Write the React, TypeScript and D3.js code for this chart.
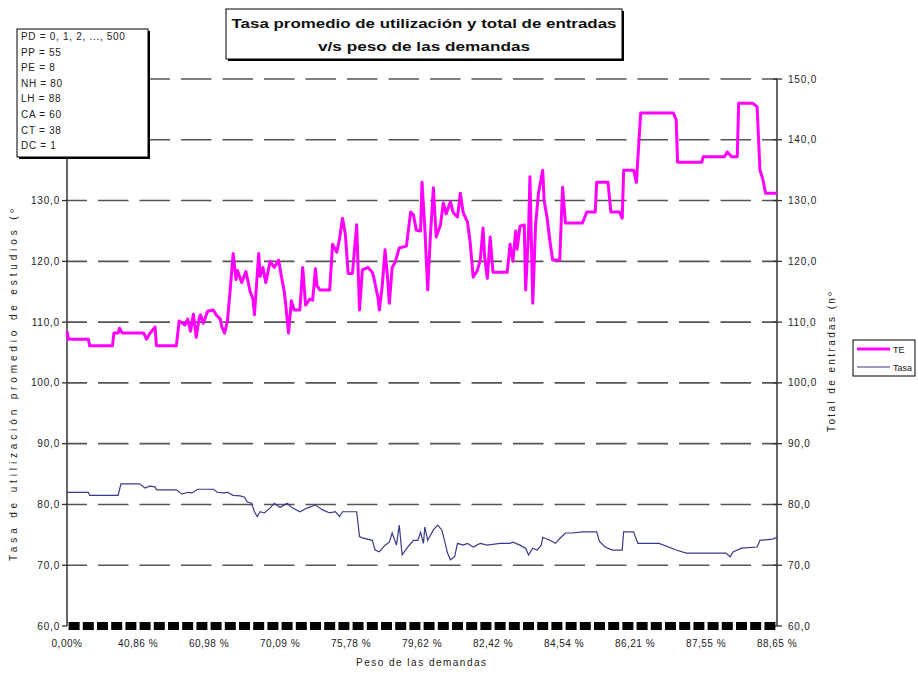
import React from "react";
import * as d3 from "d3";

// [PD category index, value]
const tePoints: [number, number][] = [
  [0, 108.5], [1, 107.2], [15, 107.2], [16, 106.1], [32, 106.1], [33, 108.2], [36, 108.2], [37, 109.0],
  [39, 108.2], [54, 108.2], [56, 107.2], [58, 108.0], [62, 109.2], [63, 106.1], [77, 106.1], [79, 110.2],
  [83, 109.5], [85, 110.5], [87, 108.5], [89, 111.3], [91, 107.5], [93, 110.5], [94, 111.2], [96, 109.8],
  [99, 111.8], [103, 112.0], [105, 111.2], [108, 110.5], [109, 109.2], [111, 108.2], [113, 110.2], [115, 115.5],
  [117, 121.3], [119, 117.0], [120, 118.5], [123, 116.5], [126, 118.3], [129, 115.0], [131, 113.8], [132, 111.2],
  [135, 121.3], [136, 117.5], [138, 119.0], [140, 116.5], [143, 120.0], [146, 119.0], [149, 120.2], [151, 117.5],
  [153, 115.0], [154, 113.0], [156, 108.2], [158, 113.5], [160, 112.0], [164, 112.0], [166, 119.0], [168, 112.8],
  [171, 113.8], [173, 113.6], [175, 118.8], [176, 116.0], [178, 115.3], [185, 115.3], [187, 122.8], [190, 121.5],
  [192, 123.8], [194, 127.1], [196, 124.5], [198, 118.0], [201, 118.0], [204, 126.0], [206, 112.0], [208, 118.6],
  [212, 119.0], [215, 118.2], [216, 117.4], [219, 114.0], [220, 112.0], [222, 116.0], [224, 121.9], [226, 116.5],
  [227, 113.1], [229, 119.0], [231, 119.8], [234, 122.2], [239, 122.5], [242, 128.1], [244, 127.6], [246, 125.1],
  [249, 125.0], [250, 133.0], [252, 125.5], [254, 115.3], [256, 124.5], [258, 132.1], [260, 124.0], [263, 126.0],
  [265, 129.6], [267, 127.8], [270, 129.8], [272, 128.0], [275, 127.3], [277, 131.2], [279, 128.0], [282, 126.5],
  [284, 123.0], [286, 117.4], [289, 118.5], [291, 120.2], [293, 125.5], [294, 121.0], [296, 117.2], [298, 124.0],
  [300, 118.2], [310, 118.2], [312, 122.8], [314, 120.0], [316, 125.0], [317, 122.0], [319, 125.8], [322, 126.0],
  [323, 115.3], [325, 124.5], [326, 133.9], [328, 113.1], [330, 126.0], [332, 131.2], [335, 135.0], [336, 130.0],
  [338, 127.3], [340, 123.5], [342, 120.2], [347, 120.2], [349, 132.2], [351, 126.3], [363, 126.3], [366, 128.1],
  [372, 128.1], [373, 133.0], [381, 133.0], [383, 128.1], [389, 128.1], [391, 127.1], [392, 135.0], [399, 135.0],
  [401, 133.0], [404, 144.4], [427, 144.4], [429, 143.3], [430, 136.3], [447, 136.3], [448, 137.2], [463, 137.2],
  [465, 138.0], [468, 137.2], [472, 137.2], [473, 146.0], [483, 146.0], [486, 145.4], [488, 135.0], [490, 133.5],
  [492, 131.2], [500, 131.2],
];

const tasaPoints: [number, number][] = [
  [0, 82.0], [15, 82.0], [16, 81.5], [36, 81.5], [38, 83.4], [51, 83.4], [55, 82.7], [58, 83.0], [62, 82.9],
  [63, 82.4], [77, 82.4], [81, 81.7], [85, 82.0], [88, 81.9], [92, 82.5], [103, 82.5], [106, 82.0], [110, 81.9],
  [113, 82.0], [117, 81.5], [122, 81.4], [125, 81.2], [127, 80.4], [130, 80.2], [132, 78.8], [134, 78.0],
  [136, 78.8], [139, 78.6], [143, 79.4], [146, 80.2], [150, 79.5], [155, 80.2], [159, 79.4], [164, 78.8],
  [169, 79.4], [175, 79.9], [180, 79.1], [185, 78.6], [189, 78.8], [192, 78.0], [194, 78.8], [204, 78.8],
  [206, 74.7], [208, 74.5], [215, 74.1], [217, 72.5], [220, 72.2], [224, 73.3], [227, 73.8], [229, 75.3],
  [232, 73.3], [234, 76.6], [236, 71.7], [240, 73.0], [244, 74.1], [247, 74.1], [249, 75.4], [251, 73.6],
  [252, 76.3], [254, 74.1], [258, 75.8], [261, 76.6], [264, 75.8], [268, 72.0], [270, 70.9], [273, 71.4],
  [275, 73.6], [279, 73.3], [282, 73.6], [286, 73.0], [291, 73.6], [296, 73.3], [305, 73.6], [312, 73.6],
  [314, 73.8], [319, 73.3], [323, 72.8], [325, 71.7], [328, 72.8], [331, 72.5], [334, 73.3], [335, 74.6],
  [340, 74.1], [344, 73.6], [347, 74.4], [351, 75.3], [356, 75.3], [363, 75.5], [373, 75.5], [375, 73.9],
  [379, 73.0], [384, 72.5], [391, 72.5], [392, 75.5], [399, 75.5], [402, 73.6], [417, 73.6], [429, 72.5],
  [436, 72.0], [464, 72.0], [467, 71.4], [469, 72.2], [475, 72.8], [486, 73.0], [488, 74.1], [497, 74.3],
  [500, 74.6],
];

const xTickLabels = ["0,00%", "40,86 %", "60,98 %", "70,09 %", "75,78 %", "79,62 %", "82,42 %", "84,54 %", "86,21 %", "87,55 %", "88,65 %"];
const yTicks = [60, 70, 80, 90, 100, 110, 120, 130, 140, 150];
const paramLines = ["PD = 0, 1, 2, ..., 500", "PP = 55", "PE =  8", "NH = 80", "LH = 88", "CA = 60", "CT = 38", "DC = 1"];
const titleLines = ["Tasa promedio de utilización y total de entradas", "v/s peso de las demandas"];
const legendItems = ["TE", "Tasa"];

const FONT = "'Liberation Sans', Arial, sans-serif";

export default function App() {
  const x = d3.scaleLinear().domain([0, 500]).range([67, 777]);
  const y = d3.scaleLinear().domain([60, 150]).range([626, 79]);
  const line = d3.line<[number, number]>().x((d) => x(d[0])).y((d) => y(d[1]));
  const fmt = (v: number) => v.toFixed(1).replace(".", ",");
  const squares = d3.range(0, 500, 10);

  return (
    <svg width={918} height={674} style={{ position: "absolute", left: 0, top: 0, background: "#fff" }} fontFamily={FONT}>
      <rect x={0} y={0} width={918} height={674} fill="#fff" />
      {/* gridlines */}
      {yTicks.slice(1).map((t) => (
        <line key={"g" + t} x1={x(0)} x2={x(500)} y1={y(t)} y2={y(t)} stroke="#555" strokeWidth={1.6}
          strokeDasharray="30.5 11" strokeDashoffset={10.5} />
      ))}
      {/* axes */}
      <line x1={x(0)} x2={x(0)} y1={y(150)} y2={y(60)} stroke="#333" strokeWidth={1.5} />
      <line x1={x(500)} x2={x(500)} y1={y(150)} y2={y(60)} stroke="#333" strokeWidth={1.5} />
      {yTicks.map((t) => (
        <g key={"t" + t}>
          <line x1={x(0) - 5} x2={x(0)} y1={y(t)} y2={y(t)} stroke="#333" strokeWidth={1.3} />
          <line x1={x(500) - 4} x2={x(500) + 5} y1={y(t)} y2={y(t)} stroke="#333" strokeWidth={1.3} />
          {t <= 130 && (
            <text x={60} y={y(t) + 3.5} fontSize={10} letterSpacing={0.8} textAnchor="end" fill="#222">{fmt(t)}</text>
          )}
          <text x={788} y={y(t) + 3.5} fontSize={10} letterSpacing={0.8} textAnchor="start" fill="#222">{fmt(t)}</text>
        </g>
      ))}
      {/* bottom squares */}
      {squares.map((s) => (
        <rect key={"s" + s} x={x(s) + 1.6} y={622} width={x(10) - x(0) - 3.2} height={8} fill="#000" />
      ))}
      {/* x labels */}
      {xTickLabels.map((l, i) => (
        <text key={"x" + i} x={x(i * 50)} y={647} fontSize={10} letterSpacing={0.5} textAnchor="middle" fill="#222">{l}</text>
      ))}
      <text x={421} y={666} fontSize={10} textAnchor="middle" fill="#222" textLength={130} lengthAdjust="spacing">Peso de las demandas</text>
      {/* series */}
      <path d={line(tasaPoints) || ""} fill="none" stroke="#3a3a8c" strokeWidth={1.2} />
      <path d={line(tePoints) || ""} fill="none" stroke="#ff00ff" strokeWidth={3} strokeLinejoin="round" />
      {/* axis titles */}
      <text transform="translate(17,385) rotate(-90)" fontSize={10} textAnchor="middle" fill="#222"
        textLength={352} lengthAdjust="spacing">Tasa de utilización promedio de estudios (º</text>
      <text transform="translate(835,362) rotate(-90)" fontSize={10} textAnchor="middle" fill="#222"
        textLength={140} lengthAdjust="spacing">Total de entradas (nº</text>
      {/* legend */}
      <rect x={853} y={340} width={62} height={36} fill="#fff" stroke="#000" strokeWidth={1} />
      <line x1={857} x2={890} y1={349} y2={349} stroke="#ff00ff" strokeWidth={3} />
      <line x1={857} x2={890} y1={367} y2={367} stroke="#3a3a8c" strokeWidth={1.2} />
      <text x={893} y={352.5} fontSize={9} fill="#222">{legendItems[0]}</text>
      <text x={893} y={370.5} fontSize={9} fill="#222">{legendItems[1]}</text>
      {/* parameter box */}
      <rect x={19} y={31} width={131} height={128} fill="#000" />
      <rect x={17} y={29} width={131} height={128} fill="#fff" stroke="#000" strokeWidth={1} />
      {paramLines.map((p, i) => (
        <text key={"p" + i} x={21} y={40 + i * 15.6} fontSize={10} letterSpacing={0.7} fill="#222">{p}</text>
      ))}
      {/* title */}
      <rect x={228} y={11} width={396} height={50} fill="#000" />
      <rect x={226} y={9} width={396} height={50} fill="#fff" stroke="#000" strokeWidth={1} />
      <text x={424} y={28} fontSize={13} fontWeight="bold" textAnchor="middle" fill="#111"
        textLength={385} lengthAdjust="spacingAndGlyphs">{titleLines[0]}</text>
      <text x={424} y={51} fontSize={13} fontWeight="bold" textAnchor="middle" fill="#111"
        textLength={212} lengthAdjust="spacingAndGlyphs">{titleLines[1]}</text>
    </svg>
  );
}
